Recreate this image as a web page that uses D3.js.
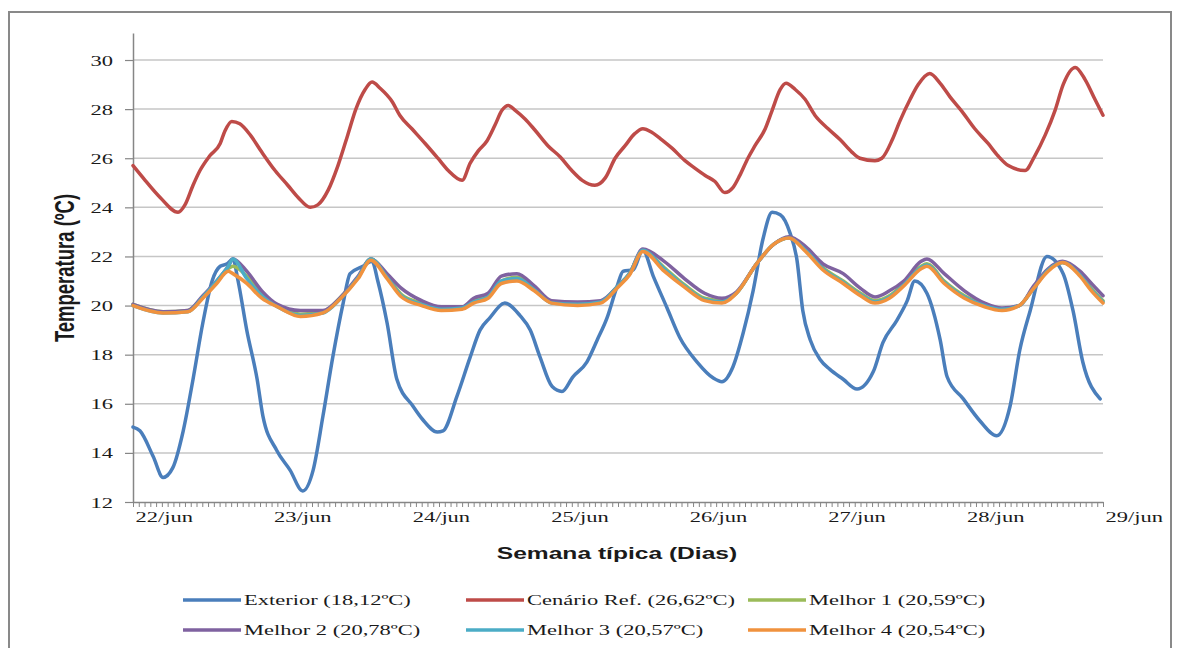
<!DOCTYPE html>
<html>
<head>
<meta charset="utf-8">
<style>body{margin:0;background:#fff}</style>
</head>
<body>
<script src="https://cdn.jsdelivr.net/npm/d3@7"></script>
<script>
var width = 1179, height = 648;
var SX = 1.5; // the source picture is stretched sideways, text follows it

var dayLabels = ['22/jun', '23/jun', '24/jun', '25/jun', '26/jun', '27/jun', '28/jun', '29/jun'];
var yTicks = [12, 14, 16, 18, 20, 22, 24, 26, 28, 30];

// Exterior (hour of week, ºC)
var extHours = [0, 1.2, 3.5, 5.2, 6.9, 8.7, 10.4, 12.1, 13.7, 15.1, 16.3, 17.3, 18.2, 19.7, 21.5, 22.5, 24.9, 27.2, 29.4,
    31.2, 32.9, 34.6, 36.4, 37.6, 39.8, 41.4, 42.4, 44.0, 45.7, 48.5, 50.2, 52.7, 53.7, 56.1, 58.4, 60.1, 61.8, 64.4,
    67.0, 68.8, 70.5, 72.6, 74.3, 76.2, 78.6, 80.4, 82.1, 83.8, 84.9, 86.6, 88.3, 90.1, 92.5, 94.7, 97.7, 100.5, 102.0,
    103.9, 105.7, 107.4, 109.1, 110.7, 112.1, 113.8, 115.0, 116.0, 117.3, 119.0, 120.7, 123.0, 125.4, 128.2, 129.9,
    132.3, 134.1, 135.4, 137.5, 139.8, 141.0, 143.8, 146.7, 149.6, 151.9, 153.6, 155.4, 158.3, 161.1, 162.8, 164.5, 167.5];
var extTemps = [15.05, 14.9, 13.85, 13.0, 13.4, 14.9, 17.0, 19.3, 21.0, 21.6, 21.7, 21.9, 21.0, 19.0, 17.0, 15.5, 14.1, 13.3, 12.45,
    13.3, 15.5, 17.9, 20.1, 21.3, 21.6, 21.8, 21.0, 19.3, 17.0, 15.9, 15.35, 14.85, 14.9, 16.3, 17.9, 19.0, 19.5, 20.1,
    19.6, 19.0, 17.9, 16.7, 16.5, 17.1, 17.7, 18.6, 19.5, 20.75, 21.4, 21.45, 22.25, 21.2, 19.9, 18.7, 17.7, 17.05, 16.9,
    17.5, 18.9, 20.6, 22.7, 23.8, 23.7, 22.95, 21.85, 19.8, 18.6, 17.8, 17.4, 17.0, 16.6, 17.3, 18.5,
    19.4, 20.2, 21.0, 20.5, 18.6, 17.1, 16.2, 15.3, 14.7, 15.9, 18.2, 19.8, 22.0, 21.3, 19.8, 17.7, 16.2];

// Cenário Ref.
var refHours = [0, 2.1, 4.7, 7.8, 9.0, 10.4, 11.6, 13.3, 15.1, 15.9, 17.1, 18.5, 20.3, 22.3, 24.6, 26.8, 28.6, 30.7,
    32.0, 33.8, 35.5, 37.2, 38.6, 40.2, 41.4, 42.8, 44.9, 46.2, 48.3, 50.6, 52.8, 54.6, 57.0, 58.4, 59.8, 61.3, 62.7,
    63.9, 65.0, 66.2, 67.9, 69.6, 71.9, 74.0, 76.0, 77.8, 80.0, 81.8, 83.5, 85.2, 86.9, 88.3, 89.9, 91.6, 93.4, 95.6,
    97.3, 99.1, 100.8, 102.5, 103.9, 105.1, 106.5, 107.7, 109.5, 110.7, 112.1, 113.1, 114.7, 116.4, 118.1, 120.4,
    122.5, 124.5, 125.9, 128.5, 129.7, 131.5, 132.8, 134.6, 136.0, 138.0, 139.8, 141.5, 143.6, 145.8, 148.1, 149.8,
    151.6, 154.5, 156.2, 158.0, 159.7, 161.1, 163.2, 164.9, 166.6, 168];
var refTemps = [25.7, 25.1, 24.4, 23.8, 24.1, 24.9, 25.5, 26.1, 26.6, 27.1, 27.5, 27.4, 26.95, 26.25, 25.5, 24.9, 24.4, 24.0,
    24.1, 24.7, 25.7, 26.95, 28.0, 28.8, 29.1, 28.85, 28.3, 27.75, 27.2, 26.6, 26.0, 25.5, 25.1, 25.8, 26.3, 26.7, 27.35,
    27.95, 28.15, 27.95, 27.6, 27.15, 26.5, 26.05, 25.5, 25.1, 24.9, 25.2, 26.0, 26.5, 27.0, 27.2, 27.05, 26.75, 26.4, 25.9,
    25.6, 25.3, 25.05, 24.6, 24.8, 25.3, 26.0, 26.5, 27.2, 27.95, 28.8, 29.05, 28.8, 28.4, 27.75, 27.2,
    26.75, 26.25, 26.0, 25.9, 26.0, 26.75, 27.5, 28.4, 29.0, 29.45, 29.05, 28.5, 27.9, 27.2, 26.6, 26.1,
    25.7, 25.5, 26.1, 26.95, 27.95, 29.0, 29.7, 29.2, 28.4, 27.75];

// Melhor 1..4 share the same read-off hours
var melhorHours = [0, 5.2, 9.5, 12.1, 14.5, 16.5, 17.3, 19.7, 22.3, 25, 29, 32.9, 36, 39, 41.2, 44, 46.5, 50, 53.4, 57,
    59, 61.5, 63.8, 66.5, 69.5, 72.5, 77, 81, 84, 86, 88.3, 92, 95.5, 99, 102, 104.5, 108, 111, 113.6, 116.5, 119.5,
    123, 126, 128.5, 131, 133.5, 136.5, 137.5, 140.5, 144, 147.5, 150.5, 153.5, 156, 158.5, 161, 164, 166, 168];
var melhor1 = [20.05, 19.75, 19.8, 20.35, 20.95, 21.5, 21.6, 21.2, 20.45, 20.0, 19.65, 19.75, 20.35, 21.15, 21.9, 21.2, 20.45, 20.1, 19.9, 19.9,
    20.2, 20.4, 21.0, 21.15, 20.7, 20.15, 20.05, 20.15, 20.8, 21.3, 22.25, 21.55, 20.85, 20.3, 20.2, 20.5, 21.7, 22.5, 22.75, 22.3, 21.55,
    21.0, 20.5, 20.2, 20.4, 20.9, 21.6, 21.7, 21.0, 20.4, 20.05, 19.85, 20.0, 20.75, 21.45, 21.75, 21.3, 20.7, 20.2];
var melhor2 = [20.05, 19.75, 19.8, 20.4, 21.0, 21.6, 21.9, 21.4, 20.6, 20.05, 19.8, 19.8, 20.35, 21.2, 21.9, 21.3, 20.7, 20.2, 19.95, 19.95,
    20.3, 20.5, 21.2, 21.3, 20.8, 20.2, 20.15, 20.2, 20.8, 21.3, 22.3, 21.8, 21.1, 20.5, 20.3, 20.55, 21.7, 22.5, 22.8, 22.4, 21.7,
    21.3, 20.7, 20.35, 20.6, 21.0, 21.8, 21.9, 21.3, 20.6, 20.1, 19.9, 20.0, 20.8, 21.5, 21.8, 21.4, 20.9, 20.4];
var melhor3 = [20.0, 19.7, 19.75, 20.35, 21.0, 21.6, 21.9, 21.1, 20.4, 19.95, 19.6, 19.7, 20.3, 21.15, 21.9, 21.15, 20.4, 20.05, 19.85, 19.9,
    20.15, 20.35, 21.0, 21.1, 20.65, 20.1, 20.05, 20.15, 20.8, 21.3, 22.25, 21.5, 20.8, 20.25, 20.15, 20.5, 21.7, 22.5, 22.75, 22.25, 21.5,
    20.95, 20.45, 20.15, 20.35, 20.85, 21.55, 21.65, 20.95, 20.35, 20.0, 19.85, 20.0, 20.7, 21.45, 21.75, 21.25, 20.65, 20.15];
var melhor4 = [20.0, 19.7, 19.75, 20.3, 20.9, 21.4, 21.3, 20.9, 20.3, 19.95, 19.55, 19.7, 20.3, 21.1, 21.85, 21.1, 20.35, 20.0, 19.8, 19.85,
    20.1, 20.3, 20.9, 21.0, 20.6, 20.1, 20.0, 20.1, 20.75, 21.25, 22.2, 21.4, 20.75, 20.2, 20.1, 20.5, 21.7, 22.5, 22.75, 22.2, 21.45,
    20.9, 20.4, 20.1, 20.3, 20.8, 21.5, 21.6, 20.9, 20.3, 19.95, 19.8, 20.0, 20.7, 21.4, 21.75, 21.2, 20.6, 20.1];

var seriesNames = ['Exterior (18,12ºC)', 'Cenário Ref. (26,62ºC)', 'Melhor 1 (20,59ºC)',
                   'Melhor 2 (20,78ºC)', 'Melhor 3 (20,57ºC)', 'Melhor 4 (20,54ºC)'];
var seriesColors = ['#4a7ebb', '#be4b48', '#9bbb59', '#7f62a0', '#4bacc6', '#f0923e'];

function zip(hours, temps) {
    return hours.map(function (h, i) { return [h, temps[i]]; });
}
var series = [
    zip(extHours, extTemps),
    zip(refHours, refTemps),
    zip(melhorHours, melhor1),
    zip(melhorHours, melhor2),
    zip(melhorHours, melhor3),
    zip(melhorHours, melhor4)
];

var svg = d3.select('body').append('svg')
    .attr('width', width).attr('height', height)
    .style('display', 'block')
    .style('background', '#fff');

svg.append('rect')
    .attr('x', 9).attr('y', 12).attr('width', 1162).attr('height', 700)
    .attr('fill', '#fff').attr('stroke', '#898989').attr('stroke-width', 2);

var x = d3.scaleLinear().domain([0, 168]).range([133, 1103]);
var y = d3.scaleLinear().domain([12, 31.1]).range([502, 33]);

// gridlines
svg.append('g').selectAll('line')
    .data(yTicks.slice(1))
    .enter().append('line')
    .attr('x1', x(0)).attr('x2', x(168))
    .attr('y1', function (d) { return y(d); })
    .attr('y2', function (d) { return y(d); })
    .attr('stroke', '#c6c6c6').attr('stroke-width', 1.5);

var serif = '"Liberation Serif", "Times New Roman", serif';
var sans = '"Liberation Sans", Arial, sans-serif';

var yAxis = svg.append('g')
    .attr('transform', 'translate(' + x(0) + ',0)')
    .call(d3.axisLeft(y).tickValues(yTicks).tickSize(8).tickSizeOuter(0));
yAxis.select('.domain').attr('stroke', '#868686').attr('stroke-width', 1.5);
yAxis.selectAll('.tick line').attr('stroke', '#868686').attr('stroke-width', 1.2);
yAxis.selectAll('.tick text')
    .attr('x', 0).attr('dy', null).attr('y', 0)
    .attr('text-anchor', 'end')
    .attr('transform', 'translate(-20,5) scale(' + SX + ',1)')
    .style('font-family', serif).style('font-size', '15px').attr('fill', '#1a1a1a');

var xAxis = svg.append('g')
    .attr('transform', 'translate(0,' + y(12) + ')')
    .call(d3.axisBottom(x)
        .tickValues(d3.range(0, 169))
        .tickSize(5).tickSizeOuter(0)
        .tickFormat(function (h) { return h % 24 === 0 ? dayLabels[h / 24] : ''; }));
xAxis.select('.domain').attr('stroke', '#868686').attr('stroke-width', 1.5);
xAxis.selectAll('.tick line').attr('stroke', '#868686').attr('stroke-width', 1);
xAxis.selectAll('.tick text')
    .attr('x', 0).attr('dy', null).attr('y', 0)
    .attr('text-anchor', 'start')
    .attr('transform', 'translate(2,20) scale(' + SX + ',1)')
    .style('font-family', serif).style('font-size', '15px').attr('fill', '#1a1a1a');

var line = d3.line()
    .x(function (d) { return x(d[0]); })
    .y(function (d) { return y(d[1]); })
    .curve(d3.curveMonotoneX);

svg.append('g').selectAll('path')
    .data(series)
    .enter().append('path')
    .attr('d', line)
    .attr('fill', 'none')
    .attr('stroke', function (d, i) { return seriesColors[i]; })
    .attr('stroke-width', 3.5)
    .attr('stroke-linejoin', 'round')
    .attr('stroke-linecap', 'round');

// titles
svg.append('text')
    .attr('transform', 'translate(74,268) scale(' + SX + ',1) rotate(-90)')
    .attr('text-anchor', 'middle')
    .style('font-family', sans).style('font-weight', 'bold').style('font-size', '18.5px')
    .attr('fill', '#1a1a1a')
    .text('Temperatura (ºC)');

svg.append('text')
    .attr('transform', 'translate(617,559) scale(' + SX + ',1)')
    .attr('text-anchor', 'middle')
    .style('font-family', sans).style('font-weight', 'bold').style('font-size', '16.4px')
    .attr('fill', '#1a1a1a')
    .text('Semana típica (Dias)');

// legend
var legendCols = [183, 466, 748];
var legendRows = [600, 630];
var legend = svg.append('g').selectAll('g')
    .data(seriesNames)
    .enter().append('g')
    .attr('transform', function (d, i) {
        return 'translate(' + legendCols[i % 3] + ',' + legendRows[Math.floor(i / 3)] + ')';
    });
legend.append('line')
    .attr('x1', 0).attr('x2', 58).attr('y1', 0).attr('y2', 0)
    .attr('stroke', function (d, i) { return seriesColors[i]; })
    .attr('stroke-width', 3.5);
legend.append('text')
    .attr('transform', 'translate(61,5) scale(' + SX + ',1)')
    .style('font-family', serif).style('font-size', '15px')
    .attr('fill', '#1a1a1a')
    .text(function (d) { return d; });
</script>
</body>
</html>
